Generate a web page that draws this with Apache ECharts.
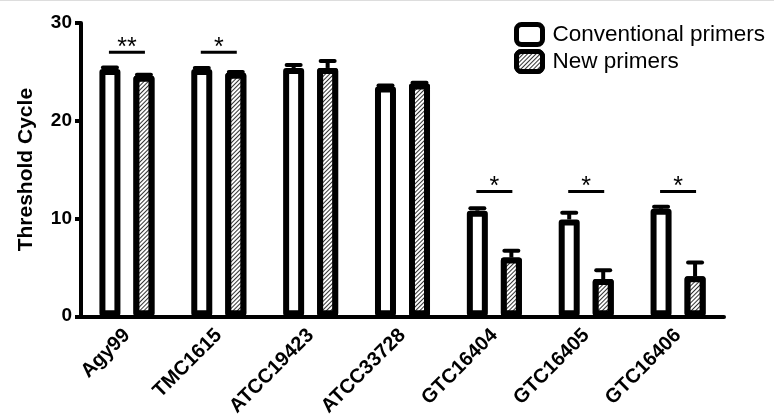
<!DOCTYPE html>
<html><head><meta charset="utf-8">
<script src="https://cdn.jsdelivr.net/npm/echarts@6/dist/echarts.min.js"></script>
<style>html,body{margin:0;padding:0;background:#fff}#c{width:774px;height:419px}</style>
</head><body><div id="c"></div>
<script>
const categories = ['Agy99','TMC1615','ATCC19423','ATCC33728','GTC16404','GTC16405','GTC16406'];
const conventional = [25.3, 25.3, 25.4, 23.5, 10.8, 9.9, 11.0];
const conventionalErr = [0.15, 0.1, 0.3, 0.1, 0.25, 0.7, 0.2];
const newPrimers = [24.6, 24.9, 25.4, 23.8, 6.0, 3.8, 4.1];
const newPrimersErr = [0.1, 0.1, 0.7, 0.1, 0.7, 0.9, 1.4];
const sigCategory = [0, 1, 4, 5, 6];
const sigLevel = [27.0, 27.0, 12.75, 12.75, 12.75];
const sigLabel = ['**', '*', '*', '*', '*'];
const yTicks = [0, 10, 20, 30];

const FONT = 'Liberation Sans, Arial, sans-serif';
const OFFSET = 17;

const chart = echarts.init(document.getElementById('c'));

function errRender(sign, values, errs) {
  return function (params, api) {
    const i = api.value(0);
    const top = api.coord([i, values[i] + errs[i]]);
    const base = api.coord([i, values[i]]);
    const x = base[0] + sign * OFFSET;
    return {
      type: 'group',
      children: [
        {type: 'line', shape: {x1: x, y1: base[1], x2: x, y2: top[1]}, style: {stroke: '#000', lineWidth: 4}},
        {type: 'line', shape: {x1: x - 7, y1: top[1], x2: x + 7, y2: top[1]}, style: {stroke: '#000', lineWidth: 4, lineCap: 'round'}}
      ]
    };
  };
}

const hatch = {
  symbol: 'rect', symbolSize: 1,
  dashArrayX: [[1, 0]], dashArrayY: [1, 2],
  rotation: -Math.PI / 4, color: '#333', backgroundColor: '#fff'
};

chart.setOption({
  animation: false,
  backgroundColor: '#fff',
  textStyle: {fontFamily: FONT},
  grid: {left: 81, right: 50, top: 23, bottom: 102, containLabel: false},
  legend: {
    left: 509, top: 17, orient: 'vertical', itemWidth: 26, itemHeight: 20, itemGap: 2,
    itemStyle: {borderWidth: 5, borderColor: '#000'},
    textStyle: {fontSize: 22.5, color: '#000', fontFamily: FONT, padding: [0, 0, 0, 5]},
    data: ['Conventional primers', 'New primers']
  },
  xAxis: {
    type: 'category', data: categories,
    axisLine: {lineStyle: {color: '#000', width: 4}},
    axisTick: {show: false},
    axisLabel: {rotate: 45, fontSize: 20, fontWeight: 'bold', color: '#000', margin: 16, interval: 0}
  },
  yAxis: {
    type: 'value', min: 0, max: 30, interval: 10,
    name: 'Threshold Cycle', nameLocation: 'middle', nameGap: 44,
    nameTextStyle: {fontSize: 21, fontWeight: 'bold', color: '#000'},
    axisLine: {show: true, lineStyle: {color: '#000', width: 4}},
    axisTick: {show: true, length: 6, lineStyle: {color: '#000', width: 4}},
    axisLabel: {fontSize: 19, fontWeight: 'bold', color: '#000', margin: 9,
      formatter: v => yTicks.includes(v) ? String(v) : ''},
    splitLine: {show: false}
  },
  series: [
    {
      name: 'Conventional primers', type: 'bar', data: conventional,
      barWidth: 21, barGap: '62%',
      itemStyle: {color: '#fff', borderColor: '#000', borderWidth: 6, borderJoin: 'round'}
    },
    {
      name: 'New primers', type: 'bar', data: newPrimers,
      barWidth: 21,
      itemStyle: {color: '#fff', borderColor: '#000', borderWidth: 6, borderJoin: 'round', decal: hatch}
    },
    {
      type: 'custom', data: categories.map((c, i) => [i]), z: 5,
      renderItem: errRender(-1, conventional, conventionalErr)
    },
    {
      type: 'custom', data: categories.map((c, i) => [i]), z: 5,
      renderItem: errRender(1, newPrimers, newPrimersErr)
    },
    {
      type: 'custom', z: 6,
      data: sigCategory.map((c, i) => [c, sigLevel[i], sigLabel[i]]),
      renderItem: function (params, api) {
        const p = api.coord([api.value(0), api.value(1)]);
        const lab = sigLabel[params.dataIndex];
        return {
          type: 'group',
          children: [
            {type: 'line', shape: {x1: p[0] - 18, y1: p[1], x2: p[0] + 18, y2: p[1]}, style: {stroke: '#000', lineWidth: 3}},
            {type: 'text', style: {text: lab, x: p[0], y: p[1] + 8, align: 'center', verticalAlign: 'bottom',
              fontSize: 25, fontFamily: FONT, fill: '#000'}}
          ]
        };
      }
    }
  ],
  graphic: [{type: 'line', shape: {x1: 0, y1: 0.5, x2: 774, y2: 0.5}, style: {stroke: '#ddd', lineWidth: 1}}]
});
</script></body></html>
